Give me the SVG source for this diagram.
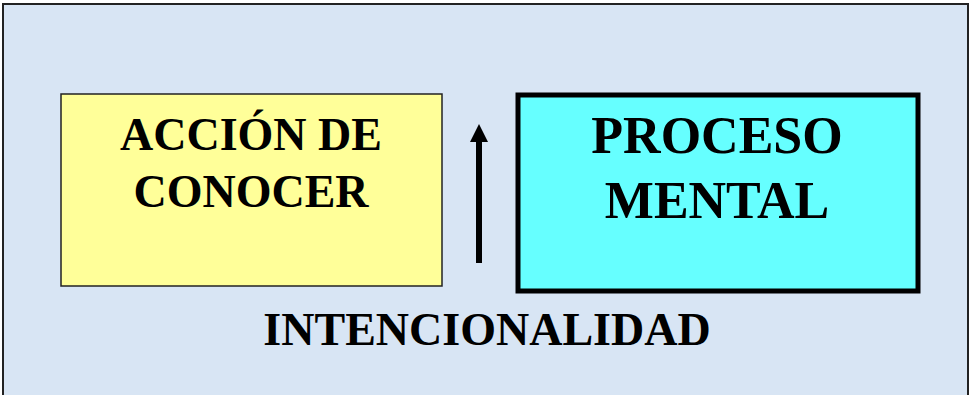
<svg xmlns="http://www.w3.org/2000/svg" width="972" height="395" viewBox="0 0 972 395">
<defs>
<style>
.t{font-family:"Liberation Serif","Times New Roman",serif;font-weight:bold;fill:#000;text-anchor:middle}
</style>
</defs>
<rect x="0" y="0" width="972" height="395" fill="#fff"/>
<rect x="3" y="4" width="965" height="395" fill="#d8e5f4" stroke="#222" stroke-width="2"/>
<g id="accion">
<rect x="61" y="94" width="381" height="192" fill="#ffff99" stroke="#222" stroke-width="1.5"/>
<text class="t" x="251" y="150" font-size="46">ACCIÓN DE</text>
<text class="t" x="251" y="207" font-size="46">CONOCER</text>
</g>
<g id="proceso">
<rect x="518" y="95" width="400" height="196" fill="#66ffff" stroke="#000" stroke-width="5"/>
<text class="t" x="717" y="153" font-size="52">PROCESO</text>
<text class="t" x="717" y="218" font-size="52">MENTAL</text>
</g>
<g id="connectors">
<line x1="479" y1="263" x2="479" y2="140" stroke="#000" stroke-width="6"/>
<path d="M470,142 L479,124 L488,142 Z" fill="#000"/>
</g>
<g id="intencionalidad">
<text class="t" x="487" y="345" font-size="46">INTENCIONALIDAD</text>
</g>
</svg>
